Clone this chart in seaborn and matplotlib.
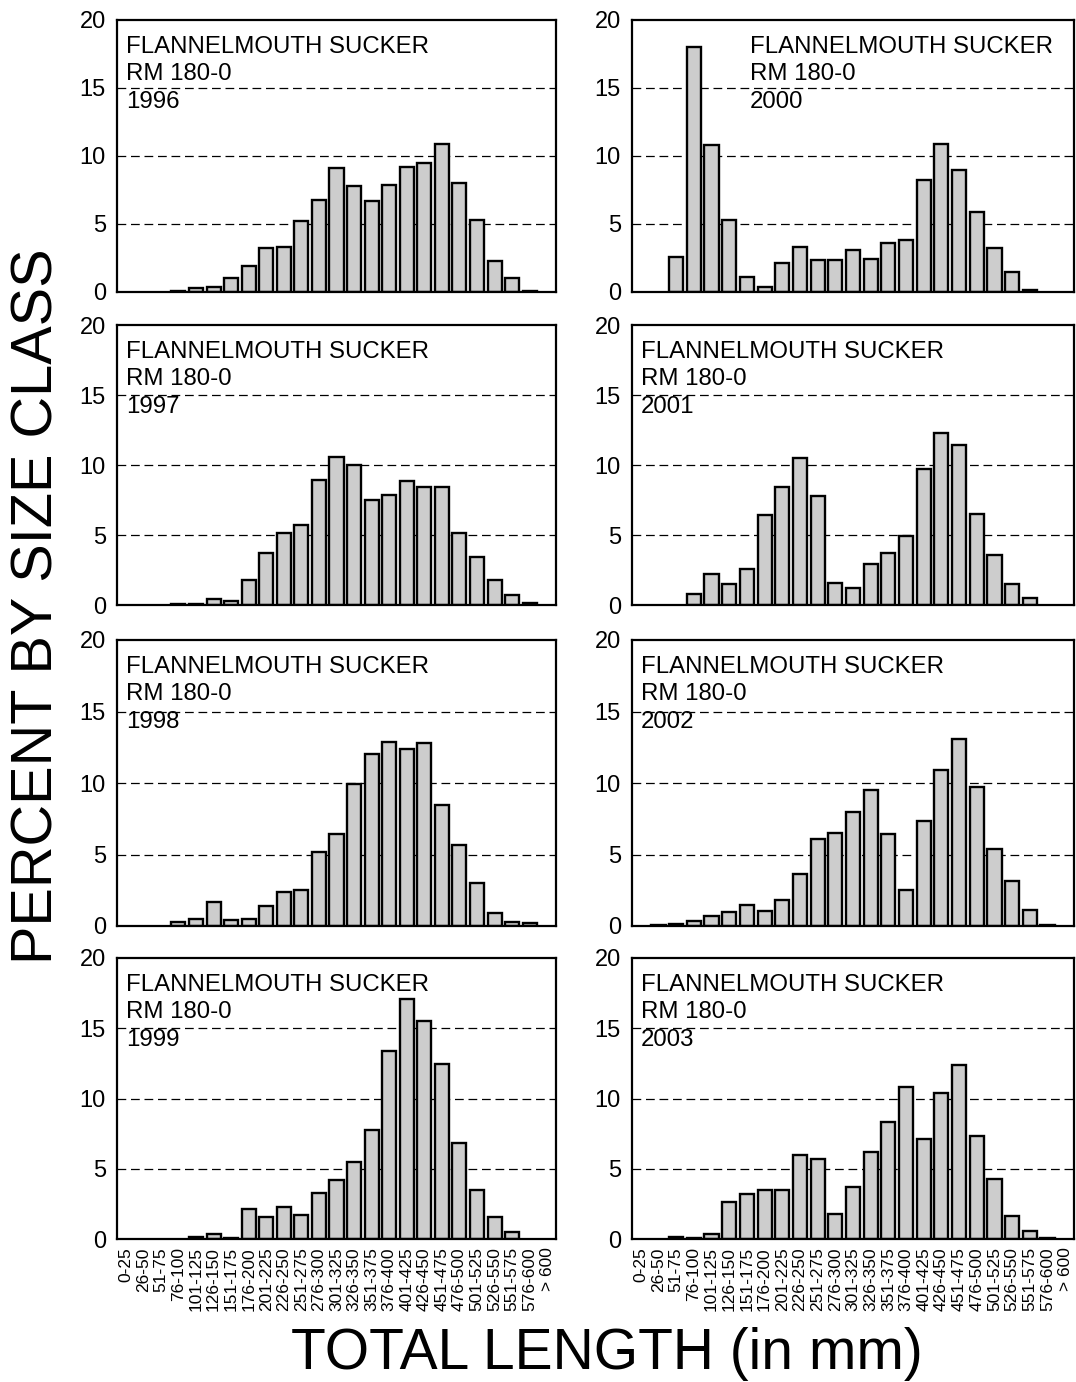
import numpy as np
import pandas as pd
import matplotlib
matplotlib.use("Agg")
import matplotlib.pyplot as plt
import seaborn as sns

# ---------------- data ----------------
categories = ["0-25", "26-50", "51-75", "76-100", "101-125", "126-150", "151-175",
              "176-200", "201-225", "226-250", "251-275", "276-300", "301-325",
              "326-350", "351-375", "376-400", "401-425", "426-450", "451-475",
              "476-500", "501-525", "526-550", "551-575", "576-600", "> 600"]

pct_1996 = [0, 0, 0, 0.05, 0.3, 0.4, 1.0, 1.9, 3.2, 3.3, 5.2, 6.8, 9.1, 7.8, 6.7,
            7.9, 9.2, 9.5, 10.9, 8.0, 5.3, 2.3, 1.0, 0.1, 0]
pct_1997 = [0, 0, 0, 0.1, 0.1, 0.4, 0.3, 1.8, 3.75, 5.15, 5.75, 8.9, 10.6, 10.0, 7.5,
            7.85, 8.85, 8.45, 8.45, 5.15, 3.45, 1.8, 0.75, 0.15, 0]
pct_1998 = [0, 0, 0, 0.3, 0.5, 1.7, 0.4, 0.5, 1.4, 2.4, 2.55, 5.2, 6.4, 9.9, 12.0,
            12.9, 12.4, 12.8, 8.45, 5.65, 3.0, 0.9, 0.3, 0.2, 0]
pct_1999 = [0, 0, 0, 0, 0.15, 0.35, 0.07, 2.1, 1.6, 2.25, 1.7, 3.25, 4.2, 5.45, 7.75,
            13.35, 17.1, 15.5, 12.45, 6.85, 3.5, 1.6, 0.5, 0, 0]
pct_2000 = [0, 0, 2.6, 18.0, 10.8, 5.3, 1.1, 0.4, 2.1, 3.3, 2.35, 2.35, 3.1, 2.4, 3.6,
            3.8, 8.25, 10.9, 9.0, 5.85, 3.2, 1.5, 0.15, 0, 0]
pct_2001 = [0, 0, 0, 0.8, 2.2, 1.5, 2.6, 6.4, 8.4, 10.5, 7.8, 1.6, 1.2, 2.9, 3.7,
            4.95, 9.7, 12.3, 11.4, 6.5, 3.6, 1.5, 0.5, 0, 0]
pct_2002 = [0, 0.05, 0.15, 0.35, 0.7, 1.0, 1.45, 1.05, 1.8, 3.65, 6.1, 6.5, 8.0, 9.5, 6.4,
            2.55, 7.35, 10.9, 13.05, 9.75, 5.35, 3.15, 1.1, 0.05, 0]
pct_2003 = [0, 0, 0.15, 0.1, 0.35, 2.65, 3.2, 3.5, 3.5, 6.0, 5.7, 1.8, 3.7, 6.2, 8.35,
            10.8, 7.1, 10.4, 12.4, 7.35, 4.3, 1.65, 0.6, 0.05, 0]

years = ["1996", "1997", "1998", "1999", "2000", "2001", "2002", "2003"]
series = [pct_1996, pct_1997, pct_1998, pct_1999, pct_2000, pct_2001, pct_2002, pct_2003]
species = "FLANNELMOUTH SUCKER"
reach = "RM 180-0"
y_ticks = [0, 5, 10, 15, 20]

# ---------------- style ----------------
sns.set_theme(style="white")
plt.rcParams['font.family'] = ['Liberation Sans', 'DejaVu Sans']
plt.rcParams['axes.edgecolor'] = 'black'
plt.rcParams['text.color'] = 'black'
plt.rcParams['xtick.color'] = 'black'
plt.rcParams['ytick.color'] = 'black'

W, H = 1076, 1382
fig = plt.figure(figsize=(W / 100, H / 100), dpi=100)
fig.patch.set_facecolor('white')

# panel rectangles in pixels: (left, top, right, bottom)
col_x = [(117, 556), (632, 1074)]
row_y = [(20, 292), (325, 605), (640, 926), (958, 1239)]

def rect(px):
    l, t, r, b = px
    return [l / W, 1 - b / H, (r - l) / W, (b - t) / H]

for i, (year, vals) in enumerate(zip(years, series)):
    col = i // 4
    row = i % 4
    l, r = col_x[col]
    t, b = row_y[row]
    ax = fig.add_axes(rect((l, t, r, b)))
    df = pd.DataFrame({"size": categories, "pct": vals})
    sns.barplot(data=df, x="size", y="pct", order=categories, ax=ax,
                color="#cdcdcd", saturation=1, edgecolor="black",
                linewidth=1.7, width=0.8, zorder=3)
    for p in ax.patches:
        if p.get_height() == 0:
            p.set_visible(False)
    ax.set_ylim(0, 20)
    ax.set_xlim(-0.5, len(categories) - 0.5)
    ax.set_yticks(y_ticks)
    ax.set_yticklabels([str(v) for v in y_ticks], fontsize=17, color='black')
    ax.tick_params(axis='y', length=0, pad=8, colors='black')
    ax.tick_params(axis='x', length=0, pad=6, colors='black')
    ax.set_xlabel("")
    ax.set_ylabel("")
    for yv in [5, 10, 15]:
        ax.axhline(yv, color='black', lw=0.9, linestyle=(0, (7, 3.8)), zorder=1)
    for s in ax.spines.values():
        s.set_visible(True)
        s.set_color('black')
        s.set_linewidth(1.6)
        s.set_zorder(5)
    if row == 3:
        ax.set_xticks(range(len(categories)))
        ax.set_xticklabels(categories, rotation=90, fontsize=12.5, va='top',
                           ha='center', color='black')
    else:
        ax.set_xticklabels([])
    xoff = 85 if year == "2000" else 6.5
    ax.annotate(f"{species}\n{reach}\n{year}", xy=(0, 1), xycoords='axes fraction',
                xytext=(xoff, -11.5), textcoords='offset points', ha='left',
                va='top', fontsize=17.3, linespacing=1.32, color='black', zorder=6)

fig.text(0.035, 0.5615, "PERCENT BY SIZE CLASS", rotation=90, ha='center',
         va='center', fontsize=41.5, color='black')
fig.text(0.564, 0.0095, "TOTAL LENGTH (in mm)", ha='center', va='baseline',
         fontsize=41, color='black')

fig.savefig("out.png", dpi=100, facecolor='white')
